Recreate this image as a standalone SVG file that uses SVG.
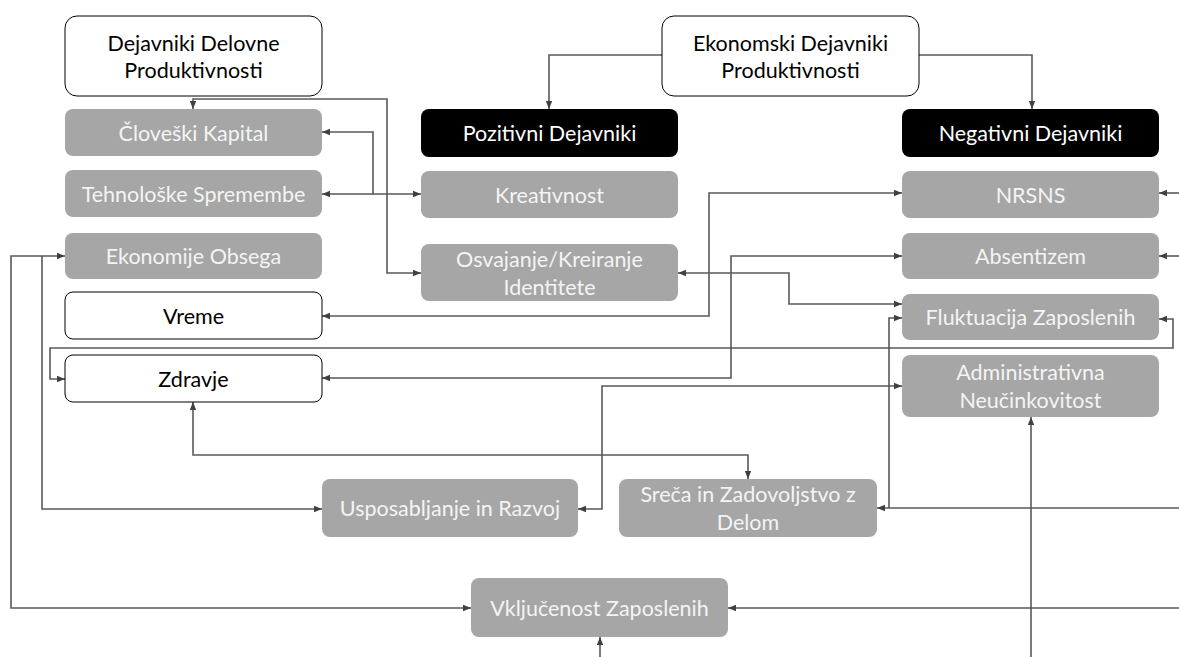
<svg xmlns="http://www.w3.org/2000/svg" width="1179" height="657" viewBox="0 0 1179 657">
<style>
.w rect{fill:#fff;stroke:#000;stroke-width:1}
.g rect{fill:#A6A6A6}
.b rect{fill:#000}
text{font-family:Lato,"Open Sans","Liberation Sans",sans-serif;font-size:21.5px;text-anchor:middle;dominant-baseline:central}
.w text{fill:#000}
.g text{fill:#F4F4F4}
.b text{fill:#fff}
.c path{fill:none;stroke:#595959;stroke-width:1.6}
.e{marker-end:url(#ah)}
.s{marker-start:url(#ah)}
</style>
<defs>
<marker id="ah" viewBox="0 0 8 8" refX="8" refY="4" markerWidth="8" markerHeight="8" markerUnits="userSpaceOnUse" orient="auto-start-reverse">
<path d="M0,0.8 L8,4 L0,7.2 z" fill="#404040"/>
</marker>
</defs>
<rect width="1179" height="657" fill="#fff"/>
<g class="c" id="connectors">
<path class="e" d="M662,55 H549 V109"/>
<path class="e" d="M919,55 H1032 V109"/>
<path class="s e" d="M193,109 V99 H387 V273 H421"/>
<path class="s e" d="M322,132 H373 V194 H421"/>
<path class="s" d="M322,194 H373"/>
<path class="s e" d="M902,193 H709 V316 H322"/>
<path class="s e" d="M902,256 H731 V378 H322"/>
<path class="s e" d="M678,273 H789 V304 H902"/>
<path class="s e" d="M1159,319 H1173 V348 H50 V379 H65"/>
<path class="s e" d="M902,386 H602 V509 H578"/>
<path class="e" d="M1179,508 H877"/>
<path class="e" d="M889,508 V318 H902"/>
<path class="e" d="M1031,657 V417"/>
<path class="e" d="M1179,608 H728"/>
<path class="e" d="M600,657 V637"/>
<path class="s e" d="M65,256 H11 V608 H471"/>
<path class="e" d="M42,256 V509 H322"/>
<path class="s e" d="M193,402 V455 H748 V479"/>
<path class="e" d="M1179,193 H1159"/>
<path class="e" d="M1179,256 H1159"/>
</g>
<g id="n-dejavniki-delovne" class="w"><rect x="65" y="16" width="257" height="80" rx="12"/><text x="193.5" y="43">Dejavniki Delovne</text><text x="193.5" y="70">Produktivnosti</text></g>
<g id="n-cloveski" class="g"><rect x="65" y="109" width="257" height="47" rx="8"/><text x="193.5" y="132.5">Človeški Kapital</text></g>
<g id="n-tehnoloske" class="g"><rect x="65" y="170" width="257" height="47" rx="8"/><text x="193.5" y="193.5">Tehnološke Spremembe</text></g>
<g id="n-ekonomije" class="g"><rect x="65" y="233" width="257" height="46" rx="8"/><text x="193.5" y="256">Ekonomije Obsega</text></g>
<g id="n-vreme" class="w"><rect x="65" y="292" width="257" height="47" rx="8"/><text x="193.5" y="315.5">Vreme</text></g>
<g id="n-zdravje" class="w"><rect x="65" y="355" width="257" height="47" rx="8"/><text x="193.5" y="378.5">Zdravje</text></g>
<g id="n-ekonomski" class="w"><rect x="662" y="16" width="257" height="80" rx="12"/><text x="790.5" y="43">Ekonomski Dejavniki</text><text x="790.5" y="70">Produktivnosti</text></g>
<g id="n-pozitivni" class="b"><rect x="421" y="109" width="257" height="48" rx="8"/><text x="549.5" y="133">Pozitivni Dejavniki</text></g>
<g id="n-kreativnost" class="g"><rect x="421" y="171" width="257" height="47" rx="8"/><text x="549.5" y="194.5">Kreativnost</text></g>
<g id="n-osvajanje" class="g"><rect x="421" y="244" width="257" height="57" rx="8"/><text x="549.5" y="259">Osvajanje/Kreiranje</text><text x="549.5" y="287">Identitete</text></g>
<g id="n-negativni" class="b"><rect x="902" y="109" width="257" height="48" rx="8"/><text x="1030.5" y="133">Negativni Dejavniki</text></g>
<g id="n-nrsns" class="g"><rect x="902" y="171" width="257" height="47" rx="8"/><text x="1030.5" y="194.5">NRSNS</text></g>
<g id="n-absentizem" class="g"><rect x="902" y="233" width="257" height="46" rx="8"/><text x="1030.5" y="256">Absentizem</text></g>
<g id="n-fluktuacija" class="g"><rect x="902" y="294" width="257" height="46" rx="8"/><text x="1030.5" y="317">Fluktuacija Zaposlenih</text></g>
<g id="n-administrativna" class="g"><rect x="902" y="355" width="257" height="62" rx="8"/><text x="1030.5" y="372">Administrativna</text><text x="1030.5" y="400">Neučinkovitost</text></g>
<g id="n-usposabljanje" class="g"><rect x="322" y="479" width="256" height="58" rx="8"/><text x="450" y="508">Usposabljanje in Razvoj</text></g>
<g id="n-sreca" class="g"><rect x="619" y="479" width="258" height="58" rx="8"/><text x="748" y="494">Sreča in Zadovoljstvo z</text><text x="748" y="522">Delom</text></g>
<g id="n-vkljucenost" class="g"><rect x="471" y="578" width="257" height="59" rx="8"/><text x="599.5" y="607.5">Vključenost Zaposlenih</text></g>
</svg>
